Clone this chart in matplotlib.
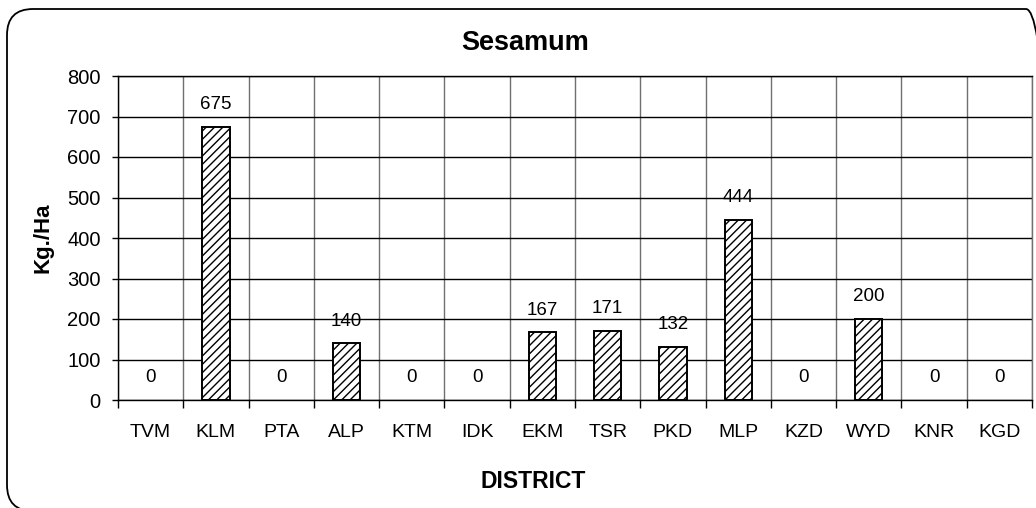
import matplotlib
matplotlib.use("Agg")
import matplotlib.pyplot as plt
from matplotlib.patches import FancyBboxPatch
from matplotlib.transforms import IdentityTransform
import numpy as np

districts = ["TVM", "KLM", "PTA", "ALP", "KTM", "IDK", "EKM", "TSR", "PKD", "MLP", "KZD", "WYD", "KNR", "KGD"]
yield_kg_ha = [0, 675, 0, 140, 0, 0, 167, 171, 132, 444, 0, 200, 0, 0]
y_ticks = [0, 100, 200, 300, 400, 500, 600, 700, 800]

plt.rcParams['font.family'] = ['Liberation Sans', 'DejaVu Sans']
plt.rcParams['hatch.linewidth'] = 1.0
plt.rcParams['hatch.color'] = '#303030'

W, H = 1036, 508
fig = plt.figure(figsize=(W / 100, H / 100), dpi=100)

# rounded outer frame (in display pixels)
frame = FancyBboxPatch((7, -3), 1052 - 7, (H - 9) - (-3),
                       boxstyle="round,pad=0,rounding_size=26",
                       transform=IdentityTransform(), fill=False,
                       edgecolor='black', linewidth=1.3, clip_on=False)
fig.patches.append(frame)

ax = fig.add_axes([118 / W, (H - 400) / H, 914 / W, 324 / H])
x = np.arange(len(districts))
edge = ['black' if v > 0 else 'none' for v in yield_kg_ha]
ax.bar(x, yield_kg_ha, width=0.42, color='white', edgecolor=edge,
       linewidth=1.4, hatch='////', zorder=3)

for xi, v in zip(x, yield_kg_ha):
    ax.annotate(f"{v}", (xi, v), xytext=(0, 16), textcoords='offset points',
                ha='center', va='center', fontsize=13.5)

ax.set_xlim(-0.5, len(districts) - 0.5)
ax.set_ylim(0, 800)
ax.set_yticks(y_ticks)
ax.tick_params(axis='y', direction='out', length=4.5, width=1, pad=8, labelsize=14.5)

ax.set_xticks(x)
ax.set_xticklabels(districts, fontsize=14)
ax.tick_params(axis='x', which='major', length=0, pad=17)
ax.set_xticks(np.arange(-0.5, len(districts), 1), minor=True)
ax.tick_params(axis='x', which='minor', direction='out', length=5.5, width=1)

ax.grid(axis='y', which='major', color='black', linewidth=1, zorder=1)
ax.grid(axis='x', which='minor', color='#707070', linewidth=1, zorder=1)
ax.set_axisbelow(True)

for s in ax.spines.values():
    s.set_linewidth(1)
ax.spines['top'].set_color('black')
ax.spines['right'].set_color('#707070')

fig.text(525 / W, 1 - 43 / H, "Sesamum", ha='center', va='center',
         fontsize=19.5, fontweight='bold')
fig.text(533 / W, 1 - 481 / H, "DISTRICT", ha='center', va='center',
         fontsize=16.5, fontweight='bold')
fig.text(43 / W, 1 - 238 / H, "Kg./Ha", ha='center', va='center',
         rotation=90, fontsize=16, fontweight='bold')

fig.savefig("out.png", dpi=100)
